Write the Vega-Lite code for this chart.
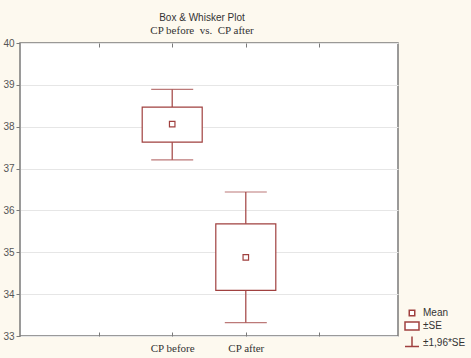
{
  "$schema": "https://vega.github.io/schema/vega-lite/v6.json",
  "width": 378,
  "height": 293,
  "autosize": {"type": "none"},
  "padding": {"left": 20, "top": 43, "right": 73, "bottom": 22},
  "background": "#fdf9ef",
  "title": {
    "text": "Box & Whisker Plot",
    "subtitle": "CP before\u00a0\u00a0vs.\u00a0\u00a0CP after\u00a0\u00a0\u00a0\u00a0\u00a0\u00a0\u00a0\u00a0\u00a0\u00a0\u00a0",
    "anchor": "middle",
    "frame": "group",
    "dx": -7,
    "offset": 2,
    "font": "Liberation Sans",
    "fontSize": 10,
    "fontWeight": "normal",
    "color": "#333333",
    "subtitleFont": "Liberation Serif",
    "subtitleFontSize": 11,
    "subtitleFontWeight": "normal",
    "subtitleColor": "#333333",
    "subtitlePadding": 2
  },
  "config": {
    "view": {"fill": "white", "stroke": "#7a7a7a", "strokeWidth": 1.5},
    "axis": {"domain": false}
  },
  "data": {
    "values": [
      {"group": "CP before", "pos": 2, "mean": 38.06, "se_lo": 37.63, "se_hi": 38.47, "ci_lo": 37.21, "ci_hi": 38.89},
      {"group": "CP after", "pos": 3, "mean": 34.88, "se_lo": 34.09, "se_hi": 35.68, "ci_lo": 33.32, "ci_hi": 36.44}
    ]
  },
  "resolve": {"axis": {"x": "independent"}},
  "layer": [
    {
      "mark": {"type": "rule", "color": "#a0403f", "strokeWidth": 1.2},
      "encoding": {
        "x": {
          "field": "pos", "type": "quantitative",
          "scale": {"domain": [0, 5], "nice": false, "zero": false},
          "axis": {
            "orient": "bottom", "title": null, "values": [1, 2, 3, 4],
            "grid": false, "tickSize": -4, "tickColor": "#7a7a7a",
            "labelExpr": "datum.value == 2 ? 'CP before' : datum.value == 3 ? 'CP after' : ''",
            "labelFont": "Liberation Serif", "labelFontSize": 11, "labelFontWeight": "normal", "labelColor": "#333333",
            "labelPadding": 10
          }
        },
        "y": {
          "field": "ci_lo", "type": "quantitative",
          "scale": {"domain": [33, 40], "nice": false, "zero": false},
          "axis": {
            "title": null, "values": [33, 34, 35, 36, 37, 38, 39, 40],
            "grid": true, "gridColor": "#e6e6e6", "tickSize": 4, "tickColor": "#7a7a7a",
            "labelFont": "Liberation Sans", "labelFontSize": 10, "labelColor": "#555555",
            "labelPadding": 2
          }
        },
        "y2": {"field": "ci_hi"}
      }
    },
    {
      "mark": {"type": "bar", "fill": "white", "stroke": "#a0403f", "strokeWidth": 1.2, "size": 60},
      "encoding": {
        "x": {
          "field": "pos", "type": "quantitative",
          "axis": {
            "orient": "top", "title": null, "values": [1, 2, 3, 4],
            "grid": false, "tickSize": -4, "tickColor": "#7a7a7a", "labels": false
          }
        },
        "y": {"field": "se_lo", "type": "quantitative"},
        "y2": {"field": "se_hi"}
      }
    },
    {
      "mark": {"type": "tick", "orient": "horizontal", "color": "#a0403f", "size": 42, "thickness": 1.2},
      "encoding": {
        "x": {"field": "pos", "type": "quantitative", "axis": null},
        "y": {"field": "ci_hi", "type": "quantitative"}
      }
    },
    {
      "mark": {"type": "tick", "orient": "horizontal", "color": "#a0403f", "size": 42, "thickness": 1.2},
      "encoding": {
        "x": {"field": "pos", "type": "quantitative", "axis": null},
        "y": {"field": "ci_lo", "type": "quantitative"}
      }
    },
    {
      "mark": {"type": "point", "filled": false, "fill": "white", "stroke": "#a0403f", "strokeWidth": 1.2, "size": 100, "opacity": 1},
      "encoding": {
        "x": {"field": "pos", "type": "quantitative", "axis": null},
        "y": {"field": "mean", "type": "quantitative"},
        "shape": {
          "datum": "Mean",
          "scale": {
            "domain": ["Mean", "±SE", "±1,96*SE"],
            "range": ["M-0.55,-0.55H0.55V0.55H-0.55Z", "M-1.4,-0.8H1.4V0.8H-1.4Z", "M0,-1.3V0.7M-1.4,0.7H1.4"]
          },
          "legend": {
            "title": null, "orient": "none", "legendX": 386, "legendY": 264,
            "symbolSize": 100, "rowPadding": 0, "labelFont": "Liberation Sans", "labelFontSize": 10,
            "labelColor": "#333333", "labelOffset": 5,
            "encode": {
              "symbols": {
                "update": {
                  "stroke": {"value": "#a0403f"},
                  "fill": {"value": "white"},
                  "strokeWidth": {"value": 1.2},
                  "opacity": {"value": 1}
                }
              }
            }
          }
        }
      }
    }
  ]
}
